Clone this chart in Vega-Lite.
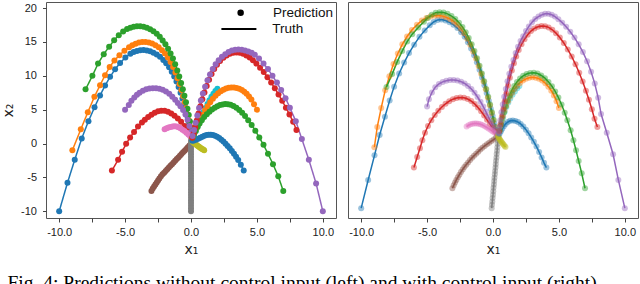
{
  "$schema": "https://vega.github.io/schema/vega-lite/v6.json",
  "padding": {"left": 0, "top": 1, "right": 5, "bottom": 0},
  "autosize": {"type": "pad"},
  "config": {
    "font": "Liberation Sans",
    "view": {"stroke": "#555", "strokeWidth": 1},
    "axis": {"grid": false, "domain": false, "tickColor": "#444", "tickSize": 4, "labelColor": "#222", "labelFontSize": 11, "labelFlush": false, "titleFontWeight": "normal", "titleFontSize": 14, "titleColor": "#222", "labelFont": "Liberation Sans", "titleFont": "DejaVu Sans"}
  },
  "title": {"text": "Fig. 4: Predictions without control input (left) and with control input (right).", "orient": "bottom", "anchor": "start", "font": "Liberation Serif", "fontSize": 19.5, "fontWeight": "normal", "color": "#000", "baseline": "top", "offset": 17, "dx": 7},
  "spacing": 10,
  "datasets": {
    "L": [
      {"t":0,"x":-10,"y":-10},{"t":0,"x":-9.37,"y":-5.8},{"t":0,"x":-8.82,"y":-2.4},{"t":0,"x":-8.29,"y":0.75},{"t":0,"x":-7.78,"y":3.3},{"t":0,"x":-7.32,"y":5.35},{"t":0,"x":-6.9,"y":7.1},{"t":0,"x":-6.52,"y":8.55},{"t":0,"x":-6.14,"y":9.85},{"t":0,"x":-5.76,"y":10.95},{"t":0,"x":-5.38,"y":11.9},{"t":0,"x":-4.98,"y":12.7},{"t":0,"x":-4.6,"y":13.25},{"t":0,"x":-4.35,"y":13.5},{"t":0,"x":-4.1,"y":13.68},{"t":0,"x":-3.85,"y":13.78},{"t":0,"x":-3.6,"y":13.8},{"t":0,"x":-3.35,"y":13.75},{"t":0,"x":-3.1,"y":13.62},{"t":0,"x":-2.85,"y":13.42},{"t":0,"x":-2.6,"y":13.15},{"t":0,"x":-2.35,"y":12.8},{"t":0,"x":-2.1,"y":12.35},{"t":0,"x":-1.88,"y":11.85},{"t":0,"x":-1.66,"y":11.25},{"t":0,"x":-1.46,"y":10.6},{"t":0,"x":-1.27,"y":9.9},{"t":0,"x":-1.1,"y":9.15},{"t":0,"x":-0.94,"y":8.35},{"t":0,"x":-0.79,"y":7.5},{"t":0,"x":-0.65,"y":6.65},{"t":0,"x":-0.52,"y":5.8},{"t":0,"x":-0.4,"y":4.95},{"t":0,"x":-0.28,"y":4.1},{"t":0,"x":-0.18,"y":3.25},{"t":0,"x":-0.09,"y":2.4},{"t":0,"x":-0.01,"y":1.6},{"t":0,"x":0.05,"y":0.9},
      {"t":1,"x":-9,"y":-1},{"t":1,"x":-8.36,"y":2.1},{"t":1,"x":-7.83,"y":4.6},{"t":1,"x":-7.33,"y":6.9},{"t":1,"x":-6.9,"y":8.6},{"t":1,"x":-6.52,"y":10.1},{"t":1,"x":-6.17,"y":11.3},{"t":1,"x":-5.81,"y":12.25},{"t":1,"x":-5.43,"y":13.05},{"t":1,"x":-5.05,"y":13.7},{"t":1,"x":-4.7,"y":14.2},{"t":1,"x":-4.45,"y":14.5},{"t":1,"x":-4.2,"y":14.75},{"t":1,"x":-3.95,"y":14.92},{"t":1,"x":-3.7,"y":15},{"t":1,"x":-3.45,"y":15},{"t":1,"x":-3.2,"y":14.92},{"t":1,"x":-2.95,"y":14.76},{"t":1,"x":-2.7,"y":14.52},{"t":1,"x":-2.45,"y":14.2},{"t":1,"x":-2.2,"y":13.78},{"t":1,"x":-1.97,"y":13.3},{"t":1,"x":-1.75,"y":12.72},{"t":1,"x":-1.55,"y":12.05},{"t":1,"x":-1.36,"y":11.3},{"t":1,"x":-1.18,"y":10.5},{"t":1,"x":-1.02,"y":9.65},{"t":1,"x":-0.87,"y":8.78},{"t":1,"x":-0.73,"y":7.9},{"t":1,"x":-0.6,"y":7},{"t":1,"x":-0.48,"y":6.1},{"t":1,"x":-0.36,"y":5.2},{"t":1,"x":-0.25,"y":4.3},{"t":1,"x":-0.15,"y":3.4},{"t":1,"x":-0.06,"y":2.5},{"t":1,"x":0.01,"y":1.7},{"t":1,"x":0.06,"y":0.95},
      {"t":2,"x":-8,"y":8},{"t":2,"x":-7.48,"y":10},{"t":2,"x":-7.05,"y":11.8},{"t":2,"x":-6.62,"y":13.2},{"t":2,"x":-6.21,"y":14.3},{"t":2,"x":-5.83,"y":15.25},{"t":2,"x":-5.48,"y":16},{"t":2,"x":-5.15,"y":16.55},{"t":2,"x":-4.85,"y":16.9},{"t":2,"x":-4.6,"y":17.1},{"t":2,"x":-4.35,"y":17.25},{"t":2,"x":-4.1,"y":17.32},{"t":2,"x":-3.85,"y":17.32},{"t":2,"x":-3.6,"y":17.25},{"t":2,"x":-3.35,"y":17.1},{"t":2,"x":-3.1,"y":16.88},{"t":2,"x":-2.85,"y":16.58},{"t":2,"x":-2.6,"y":16.2},{"t":2,"x":-2.37,"y":15.75},{"t":2,"x":-2.15,"y":15.22},{"t":2,"x":-1.94,"y":14.65},{"t":2,"x":-1.74,"y":14},{"t":2,"x":-1.55,"y":13.3},{"t":2,"x":-1.37,"y":12.55},{"t":2,"x":-1.2,"y":11.7},{"t":2,"x":-1.04,"y":10.8},{"t":2,"x":-0.89,"y":9.9},{"t":2,"x":-0.75,"y":8.95},{"t":2,"x":-0.62,"y":8},{"t":2,"x":-0.5,"y":7.05},{"t":2,"x":-0.38,"y":6.1},{"t":2,"x":-0.27,"y":5.15},{"t":2,"x":-0.17,"y":4.2},{"t":2,"x":-0.08,"y":3.25},{"t":2,"x":0,"y":2.3},{"t":2,"x":0.05,"y":1.5},{"t":2,"x":0.08,"y":0.9},
      {"t":3,"x":-6,"y":-4},{"t":3,"x":-5.53,"y":-2.4},{"t":3,"x":-5.23,"y":-1.2},{"t":3,"x":-4.92,"y":-0.05},{"t":3,"x":-4.62,"y":0.9},{"t":3,"x":-4.32,"y":1.7},{"t":3,"x":-4.02,"y":2.5},{"t":3,"x":-3.72,"y":3.1},{"t":3,"x":-3.5,"y":3.5},{"t":3,"x":-3.25,"y":3.9},{"t":3,"x":-3,"y":4.25},{"t":3,"x":-2.75,"y":4.55},{"t":3,"x":-2.5,"y":4.75},{"t":3,"x":-2.25,"y":4.85},{"t":3,"x":-2,"y":4.85},{"t":3,"x":-1.75,"y":4.7},{"t":3,"x":-1.5,"y":4.45},{"t":3,"x":-1.25,"y":4.1},{"t":3,"x":-1,"y":3.7},{"t":3,"x":-0.75,"y":3.2},{"t":3,"x":-0.5,"y":2.6},{"t":3,"x":-0.3,"y":2},{"t":3,"x":-0.1,"y":1.3},{"t":3,"x":0.05,"y":0.8},
      {"t":4,"x":-5,"y":5},{"t":4,"x":-4.72,"y":5.7},{"t":4,"x":-4.52,"y":6.3},{"t":4,"x":-4.3,"y":6.8},{"t":4,"x":-4.1,"y":7.2},{"t":4,"x":-3.9,"y":7.5},{"t":4,"x":-3.65,"y":7.8},{"t":4,"x":-3.4,"y":8},{"t":4,"x":-3.15,"y":8.12},{"t":4,"x":-2.9,"y":8.18},{"t":4,"x":-2.65,"y":8.18},{"t":4,"x":-2.4,"y":8.1},{"t":4,"x":-2.15,"y":7.95},{"t":4,"x":-1.9,"y":7.7},{"t":4,"x":-1.65,"y":7.35},{"t":4,"x":-1.42,"y":6.9},{"t":4,"x":-1.2,"y":6.45},{"t":4,"x":-1,"y":6},{"t":4,"x":-0.8,"y":5.5},{"t":4,"x":-0.6,"y":4.95},{"t":4,"x":-0.42,"y":4.3},{"t":4,"x":-0.26,"y":3.5},{"t":4,"x":-0.12,"y":2.6},{"t":4,"x":0,"y":1.7},{"t":4,"x":0.08,"y":0.9},
      {"t":5,"x":-3,"y":-7},{"t":5,"x":-2.9,"y":-6.65},{"t":5,"x":-2.8,"y":-6.35},{"t":5,"x":-2.7,"y":-6.05},{"t":5,"x":-2.6,"y":-5.75},{"t":5,"x":-2.5,"y":-5.45},{"t":5,"x":-2.4,"y":-5.15},{"t":5,"x":-2.28,"y":-4.85},{"t":5,"x":-2.16,"y":-4.55},{"t":5,"x":-2.04,"y":-4.3},{"t":5,"x":-1.92,"y":-4.05},{"t":5,"x":-1.8,"y":-3.8},{"t":5,"x":-1.68,"y":-3.55},{"t":5,"x":-1.56,"y":-3.3},{"t":5,"x":-1.44,"y":-3.05},{"t":5,"x":-1.32,"y":-2.8},{"t":5,"x":-1.2,"y":-2.55},{"t":5,"x":-1.08,"y":-2.3},{"t":5,"x":-0.96,"y":-2.05},{"t":5,"x":-0.84,"y":-1.8},{"t":5,"x":-0.72,"y":-1.55},{"t":5,"x":-0.6,"y":-1.3},{"t":5,"x":-0.48,"y":-1.05},{"t":5,"x":-0.36,"y":-0.8},{"t":5,"x":-0.24,"y":-0.55},{"t":5,"x":-0.12,"y":-0.3},{"t":5,"x":0,"y":-0.05},
      {"t":6,"x":-2,"y":2.1},{"t":6,"x":-1.85,"y":2.25},{"t":6,"x":-1.7,"y":2.35},{"t":6,"x":-1.55,"y":2.45},{"t":6,"x":-1.4,"y":2.5},{"t":6,"x":-1.25,"y":2.55},{"t":6,"x":-1.1,"y":2.5},{"t":6,"x":-0.95,"y":2.4},{"t":6,"x":-0.8,"y":2.25},{"t":6,"x":-0.65,"y":2.05},{"t":6,"x":-0.5,"y":1.85},{"t":6,"x":-0.35,"y":1.6},{"t":6,"x":-0.2,"y":1.35},{"t":6,"x":-0.05,"y":1.05},{"t":6,"x":0.05,"y":0.8},
      {"t":7,"x":0,"y":-10},{"t":7,"x":0,"y":-9.6},{"t":7,"x":0,"y":-9.2},{"t":7,"x":0,"y":-8.8},{"t":7,"x":0,"y":-8.4},{"t":7,"x":0,"y":-8},{"t":7,"x":0,"y":-7.6},{"t":7,"x":0,"y":-7.2},{"t":7,"x":0,"y":-6.8},{"t":7,"x":0,"y":-6.4},{"t":7,"x":0,"y":-6},{"t":7,"x":0,"y":-5.6},{"t":7,"x":0,"y":-5.2},{"t":7,"x":0,"y":-4.8},{"t":7,"x":0,"y":-4.4},{"t":7,"x":0,"y":-4},{"t":7,"x":0,"y":-3.6},{"t":7,"x":0,"y":-3.2},{"t":7,"x":0,"y":-2.8},{"t":7,"x":0,"y":-2.4},{"t":7,"x":0,"y":-2},{"t":7,"x":0,"y":-1.6},{"t":7,"x":0,"y":-1.2},{"t":7,"x":0,"y":-0.8},{"t":7,"x":0,"y":-0.4},{"t":7,"x":0,"y":0},{"t":7,"x":0,"y":0.4},
      {"t":8,"x":1,"y":-1},{"t":8,"x":0.92,"y":-0.9},{"t":8,"x":0.84,"y":-0.8},{"t":8,"x":0.76,"y":-0.7},{"t":8,"x":0.68,"y":-0.6},{"t":8,"x":0.6,"y":-0.48},{"t":8,"x":0.52,"y":-0.36},{"t":8,"x":0.44,"y":-0.24},{"t":8,"x":0.36,"y":-0.12},{"t":8,"x":0.28,"y":0},{"t":8,"x":0.2,"y":0.12},{"t":8,"x":0.12,"y":0.25},
      {"t":9,"x":2,"y":8.1},{"t":9,"x":1.85,"y":7.75},{"t":9,"x":1.7,"y":7.35},{"t":9,"x":1.55,"y":6.9},{"t":9,"x":1.4,"y":6.4},{"t":9,"x":1.25,"y":5.85},{"t":9,"x":1.1,"y":5.25},{"t":9,"x":0.95,"y":4.6},{"t":9,"x":0.8,"y":3.9},{"t":9,"x":0.65,"y":3.2},{"t":9,"x":0.5,"y":2.5},{"t":9,"x":0.36,"y":1.8},{"t":9,"x":0.22,"y":1.2},
      {"t":10,"x":4,"y":-4},{"t":10,"x":3.78,"y":-3.15},{"t":10,"x":3.58,"y":-2.45},{"t":10,"x":3.42,"y":-1.95},{"t":10,"x":3.26,"y":-1.5},{"t":10,"x":3.1,"y":-1.1},{"t":10,"x":2.94,"y":-0.7},{"t":10,"x":2.78,"y":-0.35},{"t":10,"x":2.62,"y":-0.02},{"t":10,"x":2.46,"y":0.28},{"t":10,"x":2.3,"y":0.55},{"t":10,"x":2.14,"y":0.8},{"t":10,"x":1.98,"y":1},{"t":10,"x":1.82,"y":1.15},{"t":10,"x":1.66,"y":1.25},{"t":10,"x":1.5,"y":1.3},{"t":10,"x":1.34,"y":1.3},{"t":10,"x":1.18,"y":1.25},{"t":10,"x":1.02,"y":1.15},{"t":10,"x":0.86,"y":1},{"t":10,"x":0.7,"y":0.85},{"t":10,"x":0.54,"y":0.7},{"t":10,"x":0.38,"y":0.55},{"t":10,"x":0.22,"y":0.45},{"t":10,"x":0.1,"y":0.4},
      {"t":11,"x":5,"y":5},{"t":11,"x":4.78,"y":5.8},{"t":11,"x":4.58,"y":6.5},{"t":11,"x":4.4,"y":6.95},{"t":11,"x":4.22,"y":7.35},{"t":11,"x":4.04,"y":7.65},{"t":11,"x":3.86,"y":7.9},{"t":11,"x":3.66,"y":8.08},{"t":11,"x":3.46,"y":8.2},{"t":11,"x":3.26,"y":8.26},{"t":11,"x":3.06,"y":8.27},{"t":11,"x":2.86,"y":8.22},{"t":11,"x":2.66,"y":8.12},{"t":11,"x":2.46,"y":7.95},{"t":11,"x":2.26,"y":7.72},{"t":11,"x":2.06,"y":7.42},{"t":11,"x":1.86,"y":7.05},{"t":11,"x":1.66,"y":6.6},{"t":11,"x":1.46,"y":6.08},{"t":11,"x":1.26,"y":5.5},{"t":11,"x":1.08,"y":4.9},{"t":11,"x":0.9,"y":4.25},{"t":11,"x":0.72,"y":3.55},{"t":11,"x":0.55,"y":2.85},{"t":11,"x":0.4,"y":2.15},{"t":11,"x":0.25,"y":1.5},{"t":11,"x":0.12,"y":0.9},
      {"t":12,"x":7,"y":-7},{"t":12,"x":6.62,"y":-4.85},{"t":12,"x":6.22,"y":-3.05},{"t":12,"x":5.84,"y":-1.5},{"t":12,"x":5.5,"y":-0.2},{"t":12,"x":5.18,"y":0.9},{"t":12,"x":4.88,"y":1.9},{"t":12,"x":4.6,"y":2.75},{"t":12,"x":4.34,"y":3.45},{"t":12,"x":4.1,"y":4.05},{"t":12,"x":3.88,"y":4.55},{"t":12,"x":3.66,"y":4.95},{"t":12,"x":3.44,"y":5.3},{"t":12,"x":3.22,"y":5.55},{"t":12,"x":3,"y":5.72},{"t":12,"x":2.8,"y":5.8},{"t":12,"x":2.6,"y":5.82},{"t":12,"x":2.4,"y":5.78},{"t":12,"x":2.2,"y":5.68},{"t":12,"x":2,"y":5.52},{"t":12,"x":1.8,"y":5.3},{"t":12,"x":1.6,"y":5.02},{"t":12,"x":1.4,"y":4.7},{"t":12,"x":1.2,"y":4.32},{"t":12,"x":1,"y":3.9},{"t":12,"x":0.82,"y":3.45},{"t":12,"x":0.65,"y":2.95},{"t":12,"x":0.5,"y":2.45},{"t":12,"x":0.35,"y":1.9},{"t":12,"x":0.22,"y":1.35},{"t":12,"x":0.12,"y":0.85},
      {"t":13,"x":8,"y":2},{"t":13,"x":7.75,"y":3.2},{"t":13,"x":7.47,"y":4.3},{"t":13,"x":7.2,"y":5.3},{"t":13,"x":6.92,"y":6.3},{"t":13,"x":6.64,"y":7.25},{"t":13,"x":6.36,"y":8.15},{"t":13,"x":6.08,"y":9},{"t":13,"x":5.8,"y":9.8},{"t":13,"x":5.52,"y":10.55},{"t":13,"x":5.24,"y":11.2},{"t":13,"x":4.96,"y":11.8},{"t":13,"x":4.7,"y":12.3},{"t":13,"x":4.45,"y":12.7},{"t":13,"x":4.2,"y":13},{"t":13,"x":3.95,"y":13.25},{"t":13,"x":3.7,"y":13.4},{"t":13,"x":3.45,"y":13.45},{"t":13,"x":3.2,"y":13.4},{"t":13,"x":2.95,"y":13.25},{"t":13,"x":2.7,"y":13},{"t":13,"x":2.45,"y":12.65},{"t":13,"x":2.2,"y":12.2},{"t":13,"x":1.97,"y":11.65},{"t":13,"x":1.76,"y":11},{"t":13,"x":1.56,"y":10.25},{"t":13,"x":1.37,"y":9.4},{"t":13,"x":1.19,"y":8.5},{"t":13,"x":1.02,"y":7.55},{"t":13,"x":0.86,"y":6.55},{"t":13,"x":0.71,"y":5.5},{"t":13,"x":0.57,"y":4.45},{"t":13,"x":0.44,"y":3.4},{"t":13,"x":0.32,"y":2.4},{"t":13,"x":0.2,"y":1.5},{"t":13,"x":0.1,"y":0.85},
      {"t":14,"x":10,"y":-10},{"t":14,"x":9.49,"y":-5.9},{"t":14,"x":8.94,"y":-2.4},{"t":14,"x":8.41,"y":0.66},{"t":14,"x":7.95,"y":3.3},{"t":14,"x":7.5,"y":5.3},{"t":14,"x":7.17,"y":6.7},{"t":14,"x":6.84,"y":7.9},{"t":14,"x":6.52,"y":9},{"t":14,"x":6.18,"y":10},{"t":14,"x":5.84,"y":11},{"t":14,"x":5.5,"y":11.8},{"t":14,"x":5.16,"y":12.55},{"t":14,"x":4.84,"y":13.1},{"t":14,"x":4.6,"y":13.4},{"t":14,"x":4.35,"y":13.6},{"t":14,"x":4.1,"y":13.75},{"t":14,"x":3.85,"y":13.85},{"t":14,"x":3.6,"y":13.88},{"t":14,"x":3.35,"y":13.85},{"t":14,"x":3.1,"y":13.72},{"t":14,"x":2.85,"y":13.5},{"t":14,"x":2.6,"y":13.2},{"t":14,"x":2.35,"y":12.8},{"t":14,"x":2.1,"y":12.3},{"t":14,"x":1.87,"y":11.7},{"t":14,"x":1.65,"y":11},{"t":14,"x":1.44,"y":10.2},{"t":14,"x":1.25,"y":9.35},{"t":14,"x":1.07,"y":8.4},{"t":14,"x":0.9,"y":7.4},{"t":14,"x":0.75,"y":6.35},{"t":14,"x":0.61,"y":5.25},{"t":14,"x":0.48,"y":4.15},{"t":14,"x":0.35,"y":3.05},{"t":14,"x":0.23,"y":2},{"t":14,"x":0.12,"y":1.1}
    ],
    "R": [
      {"t":0,"x":-10,"y":-10},{"t":0,"x":-9.47,"y":-5.83},{"t":0,"x":-8.99,"y":-2.2},{"t":0,"x":-8.6,"y":0.8},{"t":0,"x":-8.2,"y":3.5},{"t":0,"x":-7.84,"y":5.9},{"t":0,"x":-7.5,"y":7.95},{"t":0,"x":-7.12,"y":9.9},{"t":0,"x":-6.74,"y":11.5},{"t":0,"x":-6.37,"y":12.9},{"t":0,"x":-5.98,"y":14.15},{"t":0,"x":-5.58,"y":15.3},{"t":0,"x":-5.18,"y":16.25},{"t":0,"x":-4.8,"y":17},{"t":0,"x":-4.5,"y":17.5},{"t":0,"x":-4.2,"y":17.8},{"t":0,"x":-3.9,"y":17.85},{"t":0,"x":-3.6,"y":17.72},{"t":0,"x":-3.3,"y":17.45},{"t":0,"x":-3,"y":17.1},{"t":0,"x":-2.7,"y":16.6},{"t":0,"x":-2.42,"y":16},{"t":0,"x":-2.15,"y":15.3},{"t":0,"x":-1.9,"y":14.5},{"t":0,"x":-1.66,"y":13.6},{"t":0,"x":-1.43,"y":12.6},{"t":0,"x":-1.22,"y":11.55},{"t":0,"x":-1.02,"y":10.45},{"t":0,"x":-0.83,"y":9.3},{"t":0,"x":-0.65,"y":8.15},{"t":0,"x":-0.48,"y":7},{"t":0,"x":-0.32,"y":5.85},{"t":0,"x":-0.17,"y":4.7},{"t":0,"x":-0.03,"y":3.6},{"t":0,"x":0.1,"y":2.55},{"t":0,"x":0.22,"y":1.6},{"t":0,"x":0.32,"y":0.9},
      {"t":1,"x":-9,"y":-1},{"t":1,"x":-8.78,"y":2},{"t":1,"x":-8.48,"y":4.8},{"t":1,"x":-8.18,"y":7.4},{"t":1,"x":-7.86,"y":9.5},{"t":1,"x":-7.55,"y":11.3},{"t":1,"x":-7.22,"y":12.85},{"t":1,"x":-6.88,"y":14.2},{"t":1,"x":-6.52,"y":15.35},{"t":1,"x":-6.15,"y":16.3},{"t":1,"x":-5.77,"y":17.1},{"t":1,"x":-5.4,"y":17.7},{"t":1,"x":-5.05,"y":18.1},{"t":1,"x":-4.75,"y":18.3},{"t":1,"x":-4.45,"y":18.42},{"t":1,"x":-4.15,"y":18.45},{"t":1,"x":-3.85,"y":18.38},{"t":1,"x":-3.55,"y":18.2},{"t":1,"x":-3.25,"y":17.92},{"t":1,"x":-2.97,"y":17.55},{"t":1,"x":-2.7,"y":17.08},{"t":1,"x":-2.44,"y":16.5},{"t":1,"x":-2.19,"y":15.82},{"t":1,"x":-1.95,"y":15.03},{"t":1,"x":-1.72,"y":14.13},{"t":1,"x":-1.5,"y":13.15},{"t":1,"x":-1.29,"y":12.1},{"t":1,"x":-1.09,"y":11},{"t":1,"x":-0.9,"y":9.85},{"t":1,"x":-0.72,"y":8.7},{"t":1,"x":-0.55,"y":7.55},{"t":1,"x":-0.39,"y":6.35},{"t":1,"x":-0.24,"y":5.2},{"t":1,"x":-0.1,"y":4.05},{"t":1,"x":0.03,"y":2.95},{"t":1,"x":0.15,"y":1.95},{"t":1,"x":0.27,"y":1.1},
      {"t":2,"x":-8.08,"y":7.9},{"t":2,"x":-7.65,"y":9.8},{"t":2,"x":-7.27,"y":11.6},{"t":2,"x":-6.89,"y":13.2},{"t":2,"x":-6.51,"y":14.6},{"t":2,"x":-6.13,"y":15.7},{"t":2,"x":-5.67,"y":16.7},{"t":2,"x":-5.24,"y":17.55},{"t":2,"x":-4.95,"y":18.1},{"t":2,"x":-4.65,"y":18.55},{"t":2,"x":-4.35,"y":18.85},{"t":2,"x":-4.05,"y":18.95},{"t":2,"x":-3.75,"y":18.9},{"t":2,"x":-3.45,"y":18.7},{"t":2,"x":-3.15,"y":18.38},{"t":2,"x":-2.86,"y":17.95},{"t":2,"x":-2.58,"y":17.4},{"t":2,"x":-2.32,"y":16.75},{"t":2,"x":-2.07,"y":16},{"t":2,"x":-1.84,"y":15.15},{"t":2,"x":-1.62,"y":14.2},{"t":2,"x":-1.41,"y":13.2},{"t":2,"x":-1.21,"y":12.15},{"t":2,"x":-1.02,"y":11.05},{"t":2,"x":-0.84,"y":9.9},{"t":2,"x":-0.67,"y":8.75},{"t":2,"x":-0.51,"y":7.6},{"t":2,"x":-0.36,"y":6.45},{"t":2,"x":-0.22,"y":5.3},{"t":2,"x":-0.08,"y":4.15},{"t":2,"x":0.05,"y":3.05},{"t":2,"x":0.17,"y":2},{"t":2,"x":0.28,"y":1.15},
      {"t":3,"x":-6,"y":-4},{"t":3,"x":-5.75,"y":-2.44},{"t":3,"x":-5.54,"y":-1.15},{"t":3,"x":-5.36,"y":0.03},{"t":3,"x":-5.16,"y":1.15},{"t":3,"x":-4.93,"y":2.14},{"t":3,"x":-4.68,"y":3},{"t":3,"x":-4.42,"y":3.75},{"t":3,"x":-4.15,"y":4.4},{"t":3,"x":-3.88,"y":4.95},{"t":3,"x":-3.6,"y":5.42},{"t":3,"x":-3.32,"y":5.8},{"t":3,"x":-3.04,"y":6.1},{"t":3,"x":-2.76,"y":6.28},{"t":3,"x":-2.48,"y":6.35},{"t":3,"x":-2.2,"y":6.3},{"t":3,"x":-1.92,"y":6.12},{"t":3,"x":-1.65,"y":5.82},{"t":3,"x":-1.39,"y":5.4},{"t":3,"x":-1.14,"y":4.88},{"t":3,"x":-0.9,"y":4.3},{"t":3,"x":-0.67,"y":3.68},{"t":3,"x":-0.45,"y":3.05},{"t":3,"x":-0.24,"y":2.45},{"t":3,"x":-0.05,"y":1.9},{"t":3,"x":0.12,"y":1.45},{"t":3,"x":0.27,"y":1.1},
      {"t":4,"x":-5,"y":5},{"t":4,"x":-4.86,"y":6.1},{"t":4,"x":-4.63,"y":7.1},{"t":4,"x":-4.38,"y":7.85},{"t":4,"x":-4.1,"y":8.35},{"t":4,"x":-3.82,"y":8.65},{"t":4,"x":-3.54,"y":8.83},{"t":4,"x":-3.26,"y":8.92},{"t":4,"x":-2.98,"y":8.93},{"t":4,"x":-2.7,"y":8.85},{"t":4,"x":-2.42,"y":8.68},{"t":4,"x":-2.15,"y":8.42},{"t":4,"x":-1.89,"y":8.05},{"t":4,"x":-1.64,"y":7.6},{"t":4,"x":-1.4,"y":7.05},{"t":4,"x":-1.17,"y":6.42},{"t":4,"x":-0.95,"y":5.72},{"t":4,"x":-0.74,"y":5},{"t":4,"x":-0.54,"y":4.25},{"t":4,"x":-0.35,"y":3.5},{"t":4,"x":-0.17,"y":2.78},{"t":4,"x":0,"y":2.1},{"t":4,"x":0.15,"y":1.5},{"t":4,"x":0.3,"y":1.05},
      {"t":5,"x":-3.08,"y":-7.05},{"t":5,"x":-2.98,"y":-6.63},{"t":5,"x":-2.88,"y":-6.22},{"t":5,"x":-2.78,"y":-5.83},{"t":5,"x":-2.67,"y":-5.45},{"t":5,"x":-2.55,"y":-5.05},{"t":5,"x":-2.43,"y":-4.67},{"t":5,"x":-2.3,"y":-4.29},{"t":5,"x":-2.17,"y":-3.92},{"t":5,"x":-2.03,"y":-3.57},{"t":5,"x":-1.89,"y":-3.24},{"t":5,"x":-1.74,"y":-2.9},{"t":5,"x":-1.59,"y":-2.57},{"t":5,"x":-1.44,"y":-2.27},{"t":5,"x":-1.28,"y":-1.96},{"t":5,"x":-1.12,"y":-1.65},{"t":5,"x":-0.96,"y":-1.35},{"t":5,"x":-0.8,"y":-1.08},{"t":5,"x":-0.63,"y":-0.81},{"t":5,"x":-0.46,"y":-0.56},{"t":5,"x":-0.29,"y":-0.32},{"t":5,"x":-0.12,"y":-0.09},{"t":5,"x":0.05,"y":0.13},{"t":5,"x":0.21,"y":0.35},{"t":5,"x":0.36,"y":0.56},
      {"t":6,"x":-2,"y":2.05},{"t":6,"x":-1.85,"y":2.25},{"t":6,"x":-1.7,"y":2.38},{"t":6,"x":-1.55,"y":2.47},{"t":6,"x":-1.4,"y":2.52},{"t":6,"x":-1.25,"y":2.52},{"t":6,"x":-1.1,"y":2.48},{"t":6,"x":-0.95,"y":2.4},{"t":6,"x":-0.8,"y":2.28},{"t":6,"x":-0.65,"y":2.12},{"t":6,"x":-0.5,"y":1.95},{"t":6,"x":-0.35,"y":1.77},{"t":6,"x":-0.2,"y":1.57},{"t":6,"x":-0.05,"y":1.38},{"t":6,"x":0.1,"y":1.18},{"t":6,"x":0.25,"y":1},
      {"t":7,"x":-0.1,"y":-10},{"t":7,"x":-0.08,"y":-9.5},{"t":7,"x":-0.05,"y":-9},{"t":7,"x":-0.03,"y":-8.5},{"t":7,"x":0,"y":-8},{"t":7,"x":0.02,"y":-7.5},{"t":7,"x":0.04,"y":-7},{"t":7,"x":0.07,"y":-6.5},{"t":7,"x":0.09,"y":-6},{"t":7,"x":0.11,"y":-5.5},{"t":7,"x":0.14,"y":-5},{"t":7,"x":0.16,"y":-4.5},{"t":7,"x":0.19,"y":-4},{"t":7,"x":0.21,"y":-3.5},{"t":7,"x":0.23,"y":-3},{"t":7,"x":0.26,"y":-2.5},{"t":7,"x":0.28,"y":-2},{"t":7,"x":0.31,"y":-1.5},{"t":7,"x":0.33,"y":-1},{"t":7,"x":0.35,"y":-0.5},{"t":7,"x":0.38,"y":0},{"t":7,"x":0.4,"y":0.5},{"t":7,"x":0.42,"y":0.9},
      {"t":8,"x":0.95,"y":-0.95},{"t":8,"x":0.88,"y":-0.8},{"t":8,"x":0.81,"y":-0.65},{"t":8,"x":0.75,"y":-0.5},{"t":8,"x":0.69,"y":-0.35},{"t":8,"x":0.63,"y":-0.2},{"t":8,"x":0.58,"y":-0.05},{"t":8,"x":0.53,"y":0.1},{"t":8,"x":0.48,"y":0.25},{"t":8,"x":0.44,"y":0.4},{"t":8,"x":0.4,"y":0.55},{"t":8,"x":0.37,"y":0.7},
      {"t":9,"x":2,"y":8.05},{"t":9,"x":1.84,"y":7.7},{"t":9,"x":1.66,"y":7.25},{"t":9,"x":1.48,"y":6.75},{"t":9,"x":1.31,"y":6.2},{"t":9,"x":1.16,"y":5.6},{"t":9,"x":1.02,"y":4.95},{"t":9,"x":0.89,"y":4.25},{"t":9,"x":0.77,"y":3.5},{"t":9,"x":0.66,"y":2.75},{"t":9,"x":0.56,"y":2},{"t":9,"x":0.48,"y":1.3},
      {"t":10,"x":4.05,"y":-4},{"t":10,"x":3.87,"y":-3.3},{"t":10,"x":3.69,"y":-2.5},{"t":10,"x":3.5,"y":-1.7},{"t":10,"x":3.3,"y":-0.9},{"t":10,"x":3.1,"y":-0.2},{"t":10,"x":2.9,"y":0.45},{"t":10,"x":2.7,"y":1.05},{"t":10,"x":2.5,"y":1.6},{"t":10,"x":2.3,"y":2.05},{"t":10,"x":2.1,"y":2.45},{"t":10,"x":1.9,"y":2.72},{"t":10,"x":1.7,"y":2.88},{"t":10,"x":1.5,"y":2.95},{"t":10,"x":1.3,"y":2.9},{"t":10,"x":1.12,"y":2.72},{"t":10,"x":0.96,"y":2.45},{"t":10,"x":0.82,"y":2.1},{"t":10,"x":0.7,"y":1.72},{"t":10,"x":0.6,"y":1.35},{"t":10,"x":0.5,"y":1},
      {"t":11,"x":5,"y":4.8},{"t":11,"x":4.82,"y":5.8},{"t":11,"x":4.62,"y":6.65},{"t":11,"x":4.42,"y":7.35},{"t":11,"x":4.2,"y":7.95},{"t":11,"x":3.97,"y":8.45},{"t":11,"x":3.73,"y":8.85},{"t":11,"x":3.49,"y":9.12},{"t":11,"x":3.24,"y":9.28},{"t":11,"x":2.99,"y":9.33},{"t":11,"x":2.74,"y":9.27},{"t":11,"x":2.5,"y":9.1},{"t":11,"x":2.27,"y":8.85},{"t":11,"x":2.05,"y":8.5},{"t":11,"x":1.84,"y":8.08},{"t":11,"x":1.64,"y":7.6},{"t":11,"x":1.46,"y":7.05},{"t":11,"x":1.29,"y":6.45},{"t":11,"x":1.14,"y":5.8},{"t":11,"x":1,"y":5.12},{"t":11,"x":0.87,"y":4.4},{"t":11,"x":0.75,"y":3.65},{"t":11,"x":0.64,"y":2.88},{"t":11,"x":0.55,"y":2.1},{"t":11,"x":0.47,"y":1.35},
      {"t":12,"x":6.98,"y":-7.06},{"t":12,"x":6.73,"y":-4.85},{"t":12,"x":6.5,"y":-3.03},{"t":12,"x":6.3,"y":-1.45},{"t":12,"x":6.1,"y":0.05},{"t":12,"x":5.89,"y":1.5},{"t":12,"x":5.64,"y":2.98},{"t":12,"x":5.44,"y":4.1},{"t":12,"x":5.2,"y":5.3},{"t":12,"x":4.96,"y":6.35},{"t":12,"x":4.72,"y":7.25},{"t":12,"x":4.47,"y":8},{"t":12,"x":4.21,"y":8.65},{"t":12,"x":3.94,"y":9.2},{"t":12,"x":3.66,"y":9.6},{"t":12,"x":3.38,"y":9.88},{"t":12,"x":3.1,"y":10},{"t":12,"x":2.82,"y":9.98},{"t":12,"x":2.55,"y":9.82},{"t":12,"x":2.29,"y":9.55},{"t":12,"x":2.05,"y":9.15},{"t":12,"x":1.82,"y":8.65},{"t":12,"x":1.61,"y":8.05},{"t":12,"x":1.42,"y":7.38},{"t":12,"x":1.25,"y":6.65},{"t":12,"x":1.1,"y":5.85},{"t":12,"x":0.96,"y":5},{"t":12,"x":0.84,"y":4.12},{"t":12,"x":0.72,"y":3.22},{"t":12,"x":0.61,"y":2.35},{"t":12,"x":0.52,"y":1.5},
      {"t":13,"x":7.92,"y":2},{"t":13,"x":7.7,"y":3.2},{"t":13,"x":7.5,"y":4.6},{"t":13,"x":7.28,"y":6},{"t":13,"x":7.05,"y":7.35},{"t":13,"x":6.8,"y":8.7},{"t":13,"x":6.54,"y":10},{"t":13,"x":6.26,"y":11.25},{"t":13,"x":5.97,"y":12.4},{"t":13,"x":5.67,"y":13.45},{"t":13,"x":5.37,"y":14.4},{"t":13,"x":5.07,"y":15.2},{"t":13,"x":4.78,"y":15.85},{"t":13,"x":4.5,"y":16.35},{"t":13,"x":4.22,"y":16.7},{"t":13,"x":3.95,"y":16.88},{"t":13,"x":3.68,"y":16.9},{"t":13,"x":3.41,"y":16.8},{"t":13,"x":3.14,"y":16.55},{"t":13,"x":2.88,"y":16.15},{"t":13,"x":2.63,"y":15.6},{"t":13,"x":2.39,"y":14.95},{"t":13,"x":2.16,"y":14.2},{"t":13,"x":1.95,"y":13.35},{"t":13,"x":1.76,"y":12.4},{"t":13,"x":1.59,"y":11.4},{"t":13,"x":1.43,"y":10.35},{"t":13,"x":1.28,"y":9.25},{"t":13,"x":1.14,"y":8.1},{"t":13,"x":1.01,"y":6.95},{"t":13,"x":0.89,"y":5.8},{"t":13,"x":0.78,"y":4.65},{"t":13,"x":0.67,"y":3.5},{"t":13,"x":0.57,"y":2.4},{"t":13,"x":0.48,"y":1.4},
      {"t":14,"x":10,"y":-10},{"t":14,"x":9.51,"y":-5.83},{"t":14,"x":9.11,"y":-2.04},{"t":14,"x":8.63,"y":1.15},{"t":14,"x":8.2,"y":3.9},{"t":14,"x":7.98,"y":6.3},{"t":14,"x":7.72,"y":8.4},{"t":14,"x":7.44,"y":10.15},{"t":14,"x":7.14,"y":11.7},{"t":14,"x":6.82,"y":13.05},{"t":14,"x":6.5,"y":14.2},{"t":14,"x":6.18,"y":15.2},{"t":14,"x":5.86,"y":16.05},{"t":14,"x":5.55,"y":16.8},{"t":14,"x":5.25,"y":17.4},{"t":14,"x":4.96,"y":17.9},{"t":14,"x":4.7,"y":18.3},{"t":14,"x":4.45,"y":18.58},{"t":14,"x":4.2,"y":18.72},{"t":14,"x":3.95,"y":18.7},{"t":14,"x":3.7,"y":18.55},{"t":14,"x":3.45,"y":18.3},{"t":14,"x":3.2,"y":17.95},{"t":14,"x":2.96,"y":17.45},{"t":14,"x":2.72,"y":16.85},{"t":14,"x":2.5,"y":16.15},{"t":14,"x":2.29,"y":15.4},{"t":14,"x":2.09,"y":14.7},{"t":14,"x":1.9,"y":13.85},{"t":14,"x":1.72,"y":12.9},{"t":14,"x":1.55,"y":11.9},{"t":14,"x":1.39,"y":10.9},{"t":14,"x":1.24,"y":9.85},{"t":14,"x":1.1,"y":8.75},{"t":14,"x":0.97,"y":7.6},{"t":14,"x":0.85,"y":6.45},{"t":14,"x":0.74,"y":5.3},{"t":14,"x":0.64,"y":4.15},{"t":14,"x":0.55,"y":3},{"t":14,"x":0.47,"y":1.95},{"t":14,"x":0.41,"y":1.1}
    ]
  },
  "hconcat": [
    {
      "width": 290, "height": 216,
      "data": {"name": "L"},
      "encoding": {
        "x": {"field": "x", "type": "quantitative", "scale": {"domain": [-11, 11], "nice": false, "zero": false}, "axis": {"title": "x₁", "values": [-10, -7.5, -5, -2.5, 0, 2.5, 5, 7.5, 10], "labelExpr": "datum.value % 5 === 0 ? replace(format(datum.value, '.1f'), '−', '-') : ''", "labelPadding": 4, "titlePadding": 5}},
        "y": {"field": "y", "type": "quantitative", "scale": {"domain": [-11, 20.9], "nice": false, "zero": false}, "axis": {"title": "x₂", "values": [-10, -5, 0, 5, 10, 15, 20], "labelExpr": "replace(format(datum.value, 'd'), '−', '-')", "tickSize": 3.5, "labelPadding": 6, "titlePadding": 5.6}},
        "color": {"field": "t", "type": "nominal", "legend": null, "scale": {"domain": [0,1,2,3,4,5,6,7,8,9,10,11,12,13,14], "range": ["#1f77b4","#ff7f0e","#2ca02c","#d62728","#9467bd","#8c564b","#e377c2","#7f7f7f","#bcbd22","#17becf","#1f77b4","#ff7f0e","#2ca02c","#d62728","#9467bd"]}}
      },
      "layer": [
        {"mark": {"type": "line", "strokeWidth": 1.5},
         "encoding": {"order": {"value": null},
           "strokeDash": {"datum": "Truth", "scale": {"domain": ["Truth"], "range": [[1, 0]]},
             "legend": {"title": null, "orient": "none", "legendX": 173.9, "legendY": 8, "padding": 0, "symbolType": "stroke", "symbolSize": 1225, "symbolStrokeColor": "black", "symbolStrokeWidth": 2.2, "labelFontSize": 13.5, "labelFont": "Liberation Sans", "labelColor": "#111", "labelOffset": 14.4}}}},
        {"mark": {"type": "point", "filled": true, "size": 36, "opacity": 1, "strokeWidth": 0},
         "encoding": {"shape": {"datum": "Prediction", "scale": {"domain": ["Prediction"], "range": ["circle"]},
           "legend": {"title": null, "orient": "none", "legendX": 187.9, "legendY": 4, "padding": 0, "symbolSize": 42, "symbolFillColor": "black", "symbolStrokeColor": "black", "symbolStrokeWidth": 0, "symbolOpacity": 1, "labelFontSize": 13.5, "labelFont": "Liberation Sans", "labelColor": "#111", "labelOffset": 25.7}}}}
      ]
    },
    {
      "width": 290, "height": 216,
      "data": {"name": "R"},
      "encoding": {
        "x": {"field": "x", "type": "quantitative", "scale": {"domain": [-11, 11], "nice": false, "zero": false}, "axis": {"title": "x₁", "values": [-10, -7.5, -5, -2.5, 0, 2.5, 5, 7.5, 10], "labelExpr": "datum.value % 5 === 0 ? replace(format(datum.value, '.1f'), '−', '-') : ''", "labelPadding": 4, "titlePadding": 5}},
        "y": {"field": "y", "type": "quantitative", "scale": {"domain": [-11.45, 20.45], "nice": false, "zero": false}, "axis": null},
        "color": {"field": "t", "type": "nominal", "legend": null, "scale": {"domain": [0,1,2,3,4,5,6,7,8,9,10,11,12,13,14], "range": ["#1f77b4","#ff7f0e","#2ca02c","#d62728","#9467bd","#8c564b","#e377c2","#7f7f7f","#bcbd22","#17becf","#1f77b4","#ff7f0e","#2ca02c","#d62728","#9467bd"]}}
      },
      "layer": [
        {"mark": {"type": "line", "strokeWidth": 1.5}, "encoding": {"order": {"value": null}}},
        {"mark": {"type": "point", "filled": true, "size": 36, "opacity": 0.45, "strokeWidth": 0}}
      ]
    }
  ]
}
